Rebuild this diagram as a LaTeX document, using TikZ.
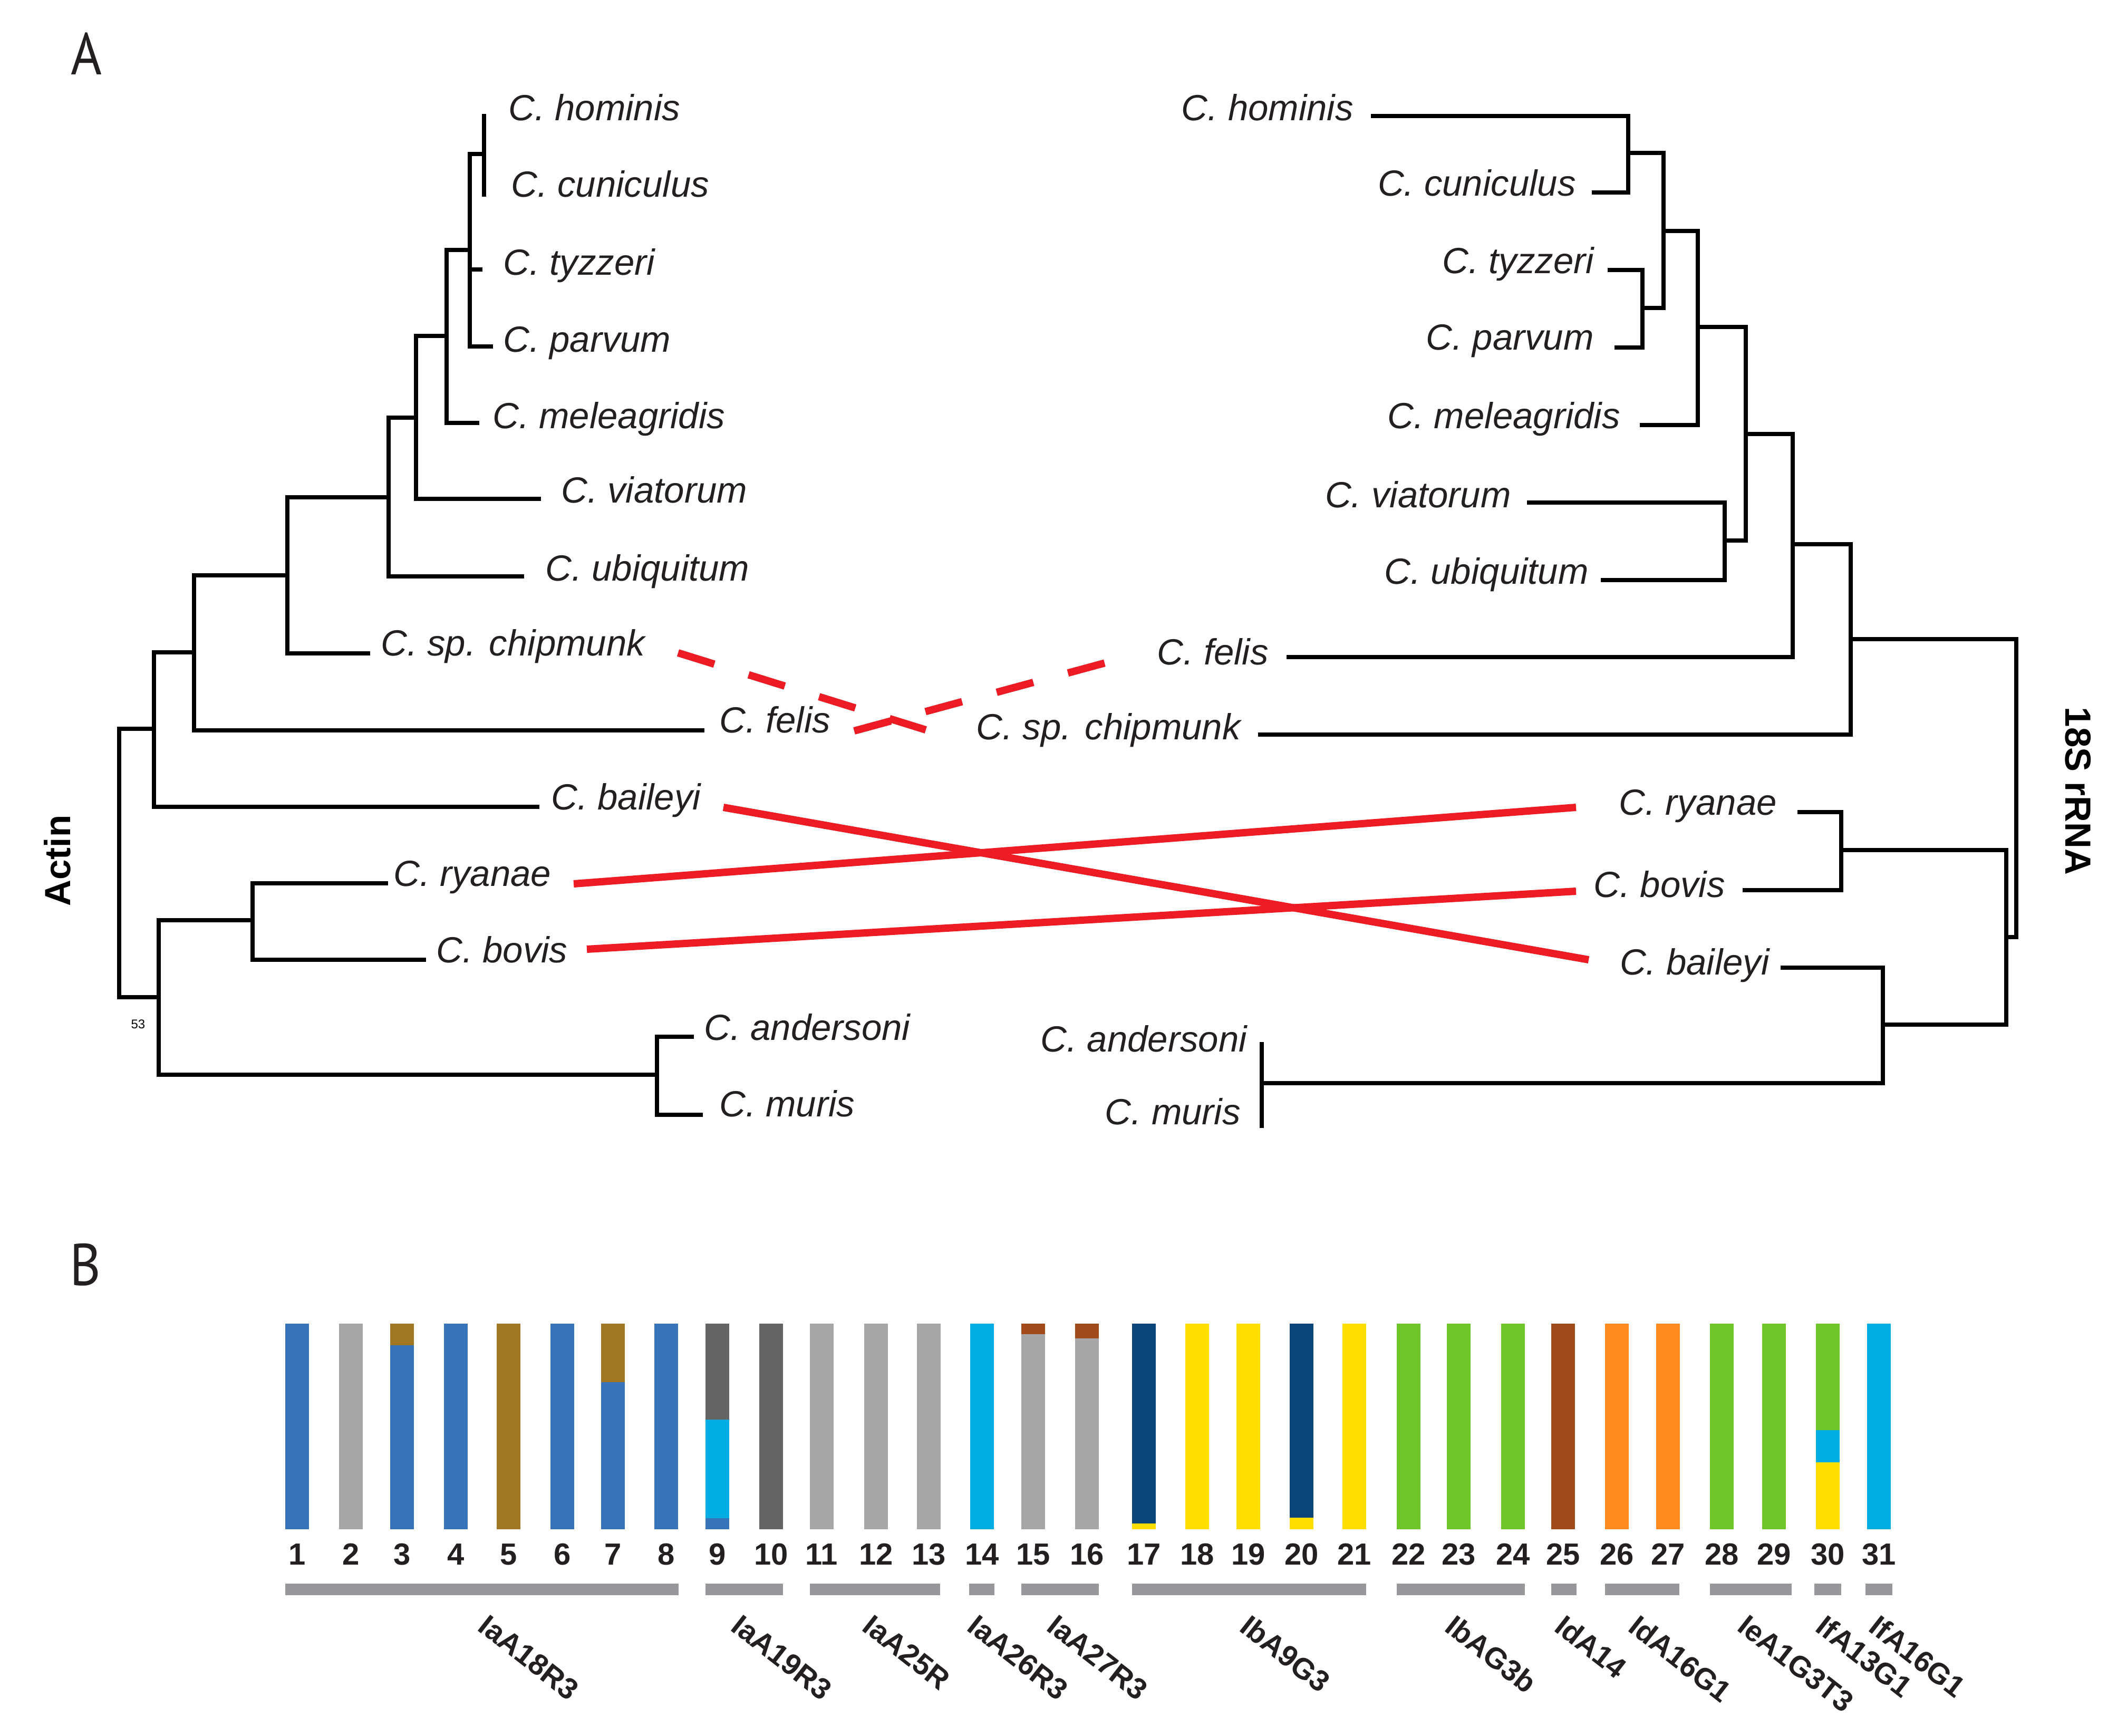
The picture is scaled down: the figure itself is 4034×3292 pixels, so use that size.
\documentclass[tikz,border=0pt]{standalone}
\usepackage{fontspec}
\setmainfont{Liberation Sans}
\newfontfamily\labfont{PT Sans}
\definecolor{cblue}{HTML}{3873BA}
\definecolor{cgray}{HTML}{A6A6A6}
\definecolor{cgold}{HTML}{A07723}
\definecolor{cdgray}{HTML}{646464}
\definecolor{ccyan}{HTML}{00ADE3}
\definecolor{crust}{HTML}{A34A1A}
\definecolor{cnavy}{HTML}{0B4577}
\definecolor{cyellow}{HTML}{FFDE00}
\definecolor{cgreen}{HTML}{6EC52A}
\definecolor{corange}{HTML}{FF8B1E}
\definecolor{cgroup}{HTML}{97989C}
\definecolor{cred}{HTML}{ED1C24}
\definecolor{ctext}{HTML}{231F20}
\begin{document}
\begin{tikzpicture}[x=1pt,y=-1pt,
  br/.style={line width=7.5pt,line cap=rect,draw=black},
  sp/.style={inner sep=0pt,text=ctext,font=\fontsize{69}{80}\selectfont\itshape},
  lab/.style={inner sep=0pt,text=ctext,font=\labfont\fontsize{112}{124}\selectfont},
  axl/.style={inner sep=0pt,text=black,font=\fontsize{69}{80}\selectfont\bfseries},
  num/.style={inner sep=0pt,text=ctext,anchor=base,font=\fontsize{58}{66}\selectfont\bfseries},
  grp/.style={inner sep=0pt,text=ctext,rotate=-38,anchor=north west,font=\fontsize{56}{64}\selectfont\bfseries},
  redl/.style={draw=cred,line width=14pt,line cap=butt},
  redd/.style={redl,dash pattern=on 72pt off 68pt}]
\useasboundingbox (0,0) rectangle (4034,3292);

% panel labels
\node[lab,anchor=base west] (labA) at (134,141) {\scalebox{0.9}[1]{A}};
\node[lab,anchor=base west] (labB) at (132,2437) {\scalebox{0.9}[1]{B}};

% axis labels
\node[axl,rotate=90] (actin) at (109,1632) {Actin};
\node[axl,rotate=-90] (rrna) at (3941,1500) {18S rRNA};
\node[inner sep=0pt,anchor=base,font=\fontsize{24}{28}\selectfont] (boot) at (262,1950) {53};

% ---- left tree (Actin) ----
\draw[br] (918,220) -- (918,369);
\draw[br] (891,292) -- (918,292);
\draw[br] (891,292) -- (891,657) -- (931,657);
\draw[br] (891,511) -- (911,511);
\draw[br] (847,474) -- (891,474);
\draw[br] (847,474) -- (847,802) -- (905,802);
\draw[br] (789,637) -- (847,637);
\draw[br] (789,637) -- (789,946) -- (1022,946);
\draw[br] (737,792) -- (789,792);
\draw[br] (737,792) -- (737,1093) -- (990,1093);
\draw[br] (545,943) -- (737,943);
\draw[br] (545,943) -- (545,1239) -- (698,1239);
\draw[br] (368,1091) -- (545,1091);
\draw[br] (368,1091) -- (368,1385) -- (1332,1385);
\draw[br] (292,1237) -- (368,1237);
\draw[br] (292,1237) -- (292,1530) -- (1019,1530);
\draw[br] (226,1382) -- (292,1382);
\draw[br] (226,1382) -- (226,1891) -- (301,1891);
\draw[br] (301,1745) -- (301,2038) -- (1246,2038);
\draw[br] (301,1745) -- (479,1745);
\draw[br] (732,1675) -- (479,1675) -- (479,1820) -- (804,1820);
\draw[br] (1312,1966) -- (1246,1966) -- (1246,2114) -- (1329,2114);

\node[sp,anchor=base west] (Lhom) at (964,228) {C. hominis};
\node[sp,anchor=base west] (Lcun) at (969,373) {C. cuniculus};
\node[sp,anchor=base west] (Ltyz) at (954,521) {C. tyzzeri};
\node[sp,anchor=base west] (Lpar) at (954,667) {C. parvum};
\node[sp,anchor=base west] (Lmel) at (934,812) {C. meleagridis};
\node[sp,anchor=base west] (Lvia) at (1064,953) {C. viatorum};
\node[sp,anchor=base west] (Lubi) at (1034,1101) {C. ubiquitum};
\node[sp,anchor=base west] (Lchi) at (722,1243) {C. sp. chipmunk};
\node[sp,anchor=base west] (Lfel) at (1364,1389) {C. felis};
\node[sp,anchor=base west] (Lbai) at (1045,1535) {C. baileyi};
\node[sp,anchor=base west] (Lrya) at (746,1680) {C. ryanae};
\node[sp,anchor=base west] (Lbov) at (827,1825) {C. bovis};
\node[sp,anchor=base west] (Land) at (1335,1972) {C. andersoni};
\node[sp,anchor=base west] (Lmur) at (1364,2117) {C. muris};

% ---- right tree (18S rRNA) ----
\draw[br] (2604,220) -- (3088,220) -- (3088,365) -- (3023,365);
\draw[br] (3088,290) -- (3155,290);
\draw[br] (3053,512) -- (3115,512) -- (3115,659) -- (3066,659);
\draw[br] (3115,584) -- (3155,584);
\draw[br] (3155,290) -- (3155,584);
\draw[br] (3155,438) -- (3220,438);
\draw[br] (3220,438) -- (3220,806) -- (3114,806);
\draw[br] (3220,620) -- (3311,620);
\draw[br] (2900,953) -- (3271,953) -- (3271,1100) -- (3040,1100);
\draw[br] (3271,1025) -- (3311,1025);
\draw[br] (3311,620) -- (3311,1025);
\draw[br] (3311,823) -- (3400,823);
\draw[br] (3400,823) -- (3400,1246) -- (2444,1246);
\draw[br] (3400,1032) -- (3510,1032);
\draw[br] (3510,1032) -- (3510,1393) -- (2390,1393);
\draw[br] (3510,1212) -- (3824,1212) -- (3824,1777) -- (3805,1777);
\draw[br] (3805,1612) -- (3805,1943);
\draw[br] (3413,1540) -- (3492,1540) -- (3492,1688) -- (3309,1688);
\draw[br] (3492,1612) -- (3805,1612);
\draw[br] (3381,1835) -- (3571,1835) -- (3571,2054) -- (2393,2054);
\draw[br] (3571,1943) -- (3805,1943);
\draw[br] (2393,1980) -- (2393,2135);

\node[sp,anchor=base east] (Rhom) at (2567,228) {C. hominis};
\node[sp,anchor=base east] (Rcun) at (2989,371) {C. cuniculus};
\node[sp,anchor=base east] (Rtyz) at (3023,518) {C. tyzzeri};
\node[sp,anchor=base east] (Rpar) at (3023,663) {C. parvum};
\node[sp,anchor=base east] (Rmel) at (3073,812) {C. meleagridis};
\node[sp,anchor=base east] (Rvia) at (2866,962) {C. viatorum};
\node[sp,anchor=base east] (Rubi) at (3013,1107) {C. ubiquitum};
\node[sp,anchor=base east] (Rfel) at (2406,1260) {C. felis};
\node[sp,anchor=base east] (Rchi) at (2353,1402) {C. sp. chipmunk};
\node[sp,anchor=base east] (Rrya) at (3370,1545) {C. ryanae};
\node[sp,anchor=base east] (Rbov) at (3272,1701) {C. bovis};
\node[sp,anchor=base east] (Rbai) at (3356,1848) {C. baileyi};
\node[sp,anchor=base east] (Rand) at (2365,1994) {C. andersoni};
\node[sp,anchor=base east] (Rmur) at (2353,2132) {C. muris};

% ---- red connectors ----
\coordinate (ryA) at (1088,1676); \coordinate (ryB) at (2989,1531);
\coordinate (boA) at (1113,1800); \coordinate (boB) at (2989,1690);
\coordinate (baA) at (1372,1531); \coordinate (baB) at (3013,1820);
\coordinate (chA) at (1286,1238); \coordinate (chB) at (1762,1386);
\coordinate (feA) at (1620,1386); \coordinate (feB) at (2100,1256);
\draw[redl] (baA) -- (baB);
\draw[redl] (ryA) -- (ryB);
\draw[redl] (boA) -- (boB);
\draw[redd] (chA) -- (chB);
\draw[redd] (feA) -- (feB);

% ---- panel B ----
\foreach \i/\x/\c in {1/541/cblue,2/643/cgray,3/740/cblue,4/842/cblue,5/942/cgold,
  6/1044/cblue,7/1140/cblue,8/1241/cblue,9/1338/cblue,10/1440/cdgray,
  11/1536/cgray,12/1639/cgray,13/1739/cgray,14/1840/ccyan,15/1937/cgray,
  16/2039/cgray,17/2147/cyellow,18/2248/cyellow,19/2345/cyellow,20/2446/cyellow,
  21/2546/cyellow,22/2649/cgreen,23/2744/cgreen,24/2847/cgreen,25/2942/crust,
  26/3044/corange,27/3141/corange,28/3243/cgreen,29/3342/cgreen,30/3444/cyellow,
  31/3541/ccyan}{
  \fill[\c] (\x,2510) rectangle ++(45,390);
  \node[num] (n\i) at (\x+22.5,2967) {\i};
}
\fill[cgold] (740,2510) rectangle ++(45,41);
\fill[cgold] (1140,2510) rectangle ++(45,111);
\fill[cdgray] (1338,2510) rectangle (1383,2692);
\fill[ccyan] (1338,2692) rectangle (1383,2879);
\fill[crust] (1937,2510) rectangle ++(45,20);
\fill[crust] (2039,2510) rectangle ++(45,28);
\fill[cnavy] (2147,2510) rectangle (2192,2889);
\fill[cnavy] (2446,2510) rectangle (2491,2878);
\fill[cgreen] (3444,2510) rectangle (3489,2712);
\fill[ccyan] (3444,2712) rectangle (3489,2773);

% group bars
\foreach \a/\b in {541/1287,1338/1485,1536/1783,1838/1886,1937/2084,2147/2591,
  2649/2892,2942/2990,3044/3185,3243/3398,3441/3492,3538/3589}{
  \fill[cgroup] (\a,3003) rectangle (\b,3025);
}

% group labels
\node[grp] (g1) at (928,3059) {IaA18R3};
\node[grp] (g2) at (1408,3059) {IaA19R3};
\node[grp] (g3) at (1657,3059) {IaA25R};
\node[grp] (g4) at (1856,3059) {IaA26R3};
\node[grp] (g5) at (2007,3059) {IaA27R3};
\node[grp] (g6) at (2373,3059) {IbA9G3};
\node[grp] (g7) at (2762,3059) {IbAG3b};
\node[grp] (g8) at (2970,3059) {IdA14};
\node[grp] (g9) at (3110,3059) {IdA16G1};
\node[grp] (g10) at (3316,3059) {IeA1G3T3};
\node[grp] (g11) at (3465,3059) {IfA13G1};
\node[grp] (g12) at (3566,3059) {IfA16G1};
\end{tikzpicture}
\end{document}
